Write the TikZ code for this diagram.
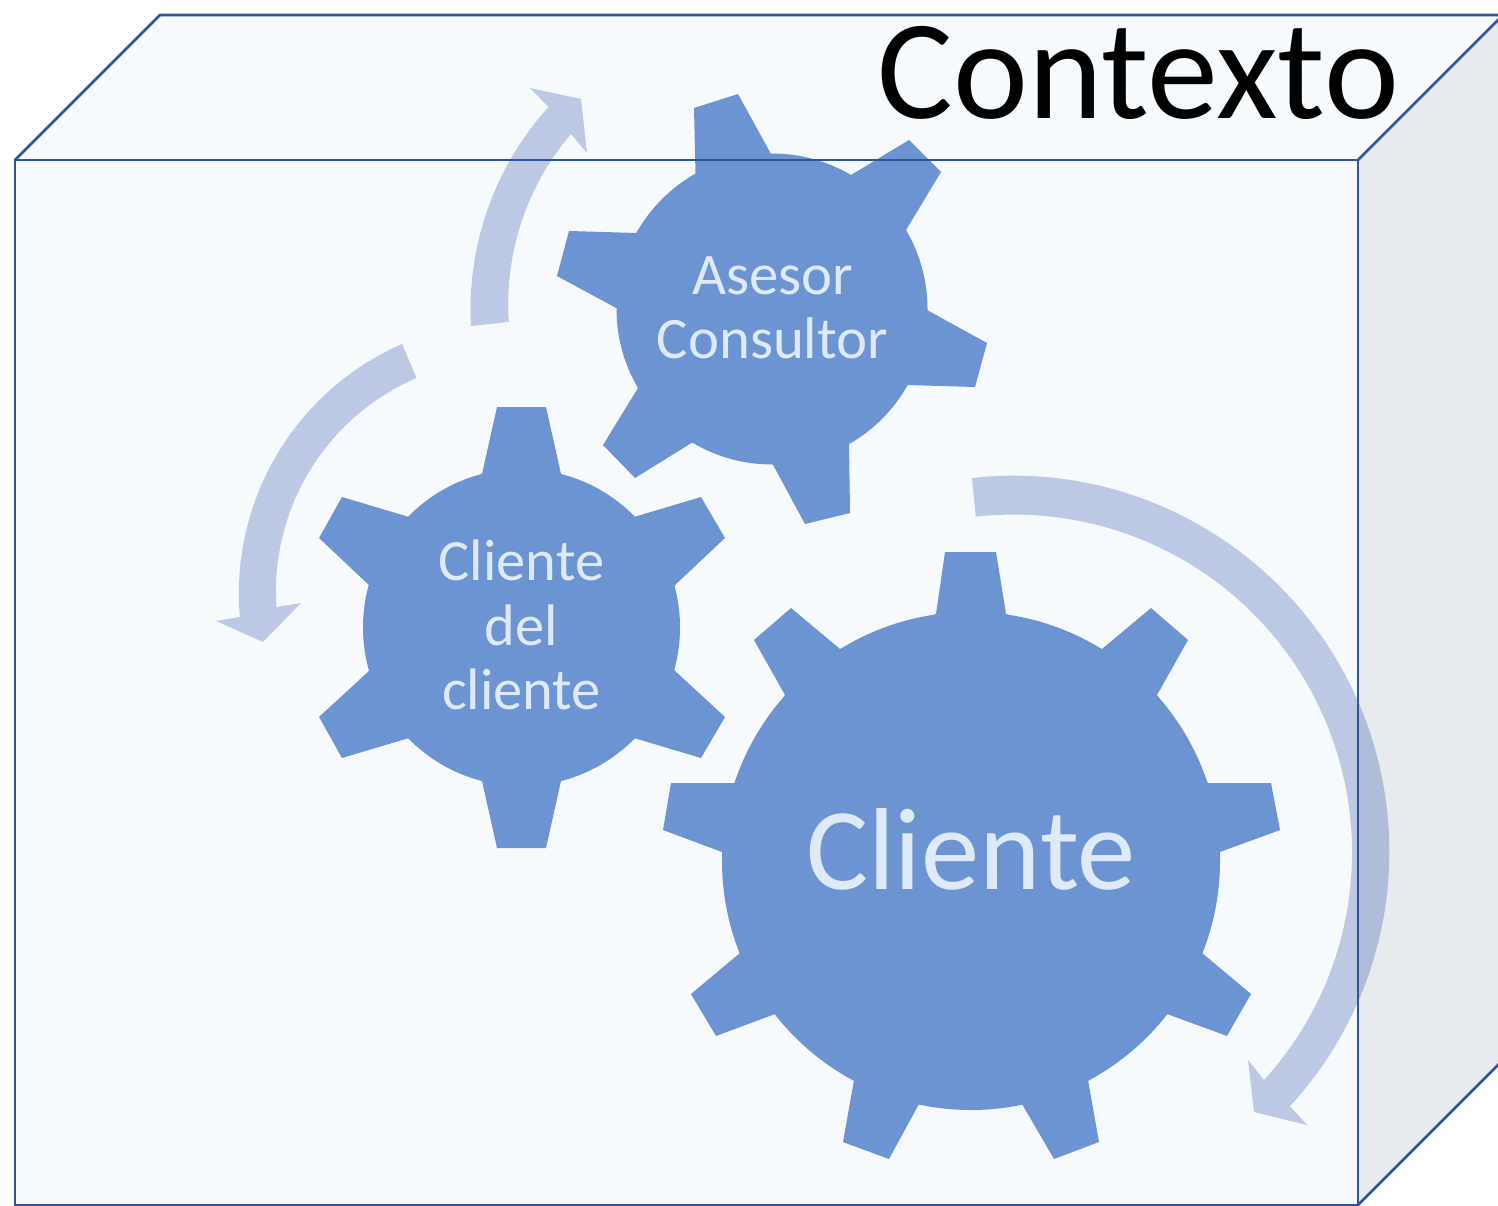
\documentclass[tikz,border=0pt]{standalone}
\usepackage{fontspec}
\setmainfont{Carlito}
\definecolor{frontc}{HTML}{F6FAFD}
\definecolor{sidec}{HTML}{E8EBEE}
\definecolor{linec}{HTML}{2F5597}
\definecolor{gearc}{HTML}{6D94D2}
\definecolor{arrowc}{HTML}{BDC9E4}
\definecolor{arrowd}{HTML}{B0BDD9}
\definecolor{labelc}{HTML}{DEEAF7}
\tikzset{
  gearfill/.style={fill=gearc,draw=none},
  boxline/.style={draw=linec,line width=2.6pt,line join=miter},
  gearlabel/.style={text=labelc,align=center,inner sep=0pt},
}
\newcommand{\bigarrow}{(972,478) arc[start angle=96.3,end angle=-42.6,radius=376pt] -- (1307,1125) -- (1254,1112) -- (1248,1060) -- (1264,1080) arc[start angle=-42.3,end angle=96.5,radius=338pt] -- cycle}
\begin{document}
\begin{tikzpicture}[x=1pt,y=-1pt]
\useasboundingbox (0,0) rectangle (1498,1206);
\clip (0,0) rectangle (1498,1206);
% box faces
\fill[frontc] (15,160) -- (160,15) -- (1503,15) -- (1358,160) -- cycle;
\fill[frontc] (15,160) rectangle (1358,1205);
\fill[sidec] (1358,160) -- (1503,15) -- (1503,1060) -- (1358,1205) -- cycle;
% arrows
\fill[arrowc] \bigarrow;
\begin{scope}
\clip (1358,0) rectangle (1498,1206);
\fill[arrowd] \bigarrow;
\end{scope}
\fill[arrowc] (402,344) arc[start angle=113.6,end angle=185,radius=272pt] -- (216,621) -- (263,642) -- (301,603) -- (276.5,607) arc[start angle=183.9,end angle=113.2,radius=232pt] -- cycle;
\fill[arrowc] (471,326) arc[start angle=183.2,end angle=137.8,radius=301pt] -- (530,88) -- (581,99) -- (587,153) -- (571,134) arc[start angle=139.5,end angle=183.9,radius=262pt] -- cycle;
% gear: Cliente
\fill[gearfill] (971,861) circle[radius=249pt];
\fill[gearfill] (945,552) -- (996,552) -- (1006,614) -- (1102,649) -- (1151,608) -- (1188,640) -- (1157,695) -- (1208,783) -- (1271,783) -- (1280,830) -- (1220,852) -- (1202,953) -- (1251,994) -- (1227,1036) -- (1167,1014) -- (1088,1080) -- (1099,1142) -- (1054,1159) -- (1022,1104) -- (919,1104) -- (889,1159) -- (843,1142) -- (854,1080) -- (775,1014) -- (716,1036) -- (691,994) -- (740,953) -- (722,852) -- (663,830) -- (671,783) -- (735,783) -- (785,695) -- (754,640) -- (791,608) -- (840,649) -- (936,614) -- cycle;
% gear: Cliente del cliente
\fill[gearfill] (521.5,627.5) circle[radius=158.5pt];
\fill[gearfill] (497,407) -- (546,407) -- (561,474) -- (634,517) -- (701,497) -- (725,538) -- (674,586) -- (674,670) -- (725,717) -- (701,758) -- (634,738) -- (561,781) -- (546,848) -- (497,848) -- (482,781) -- (409,738) -- (342,758) -- (319,717) -- (370,670) -- (370,586) -- (319,538) -- (342,497) -- (409,517) -- (482,474) -- cycle;
% gear: Asesor Consultor
\fill[gearfill] (772,309) circle[radius=155.5pt];
\fill[gearfill] (695.5,174) -- (694,108) -- (738,94) -- (771,154) -- (851,175) -- (909,140) -- (941,172) -- (906,230) -- (927,310) -- (987,343) -- (975,387) -- (906,385) -- (849,443) -- (850,513) -- (805,524) -- (772,463) -- (693,442) -- (635,478) -- (603,445) -- (638,388) -- (618,309) -- (557,276) -- (569,231) -- (637,233) -- cycle;
% box edges
\draw[boxline] (15,160) -- (160,15) -- (1503,15);
\draw[boxline] (15,160) rectangle (1358,1205);
\draw[boxline] (1358,160) -- (1503,15);
\draw[boxline] (1358,1205) -- (1503,1060);
% labels
\node[gearlabel,font=\fontsize{58.8}{64.5}\selectfont] (asesor) at (772.5,308) {Asesor\\Consultor};
\node[gearlabel,font=\fontsize{58.5}{64.5}\selectfont] (cdc) at (521.5,625) {Cliente\\del\\cliente};
\node[gearlabel,font=\fontsize{116.7}{120}\selectfont] (cliente) at (971,849) {Cliente};
\node[text=black,inner sep=0pt,font=\fontsize{142}{150}\selectfont] (contexto) at (1138.5,73) {Contexto};
\end{tikzpicture}
\end{document}
